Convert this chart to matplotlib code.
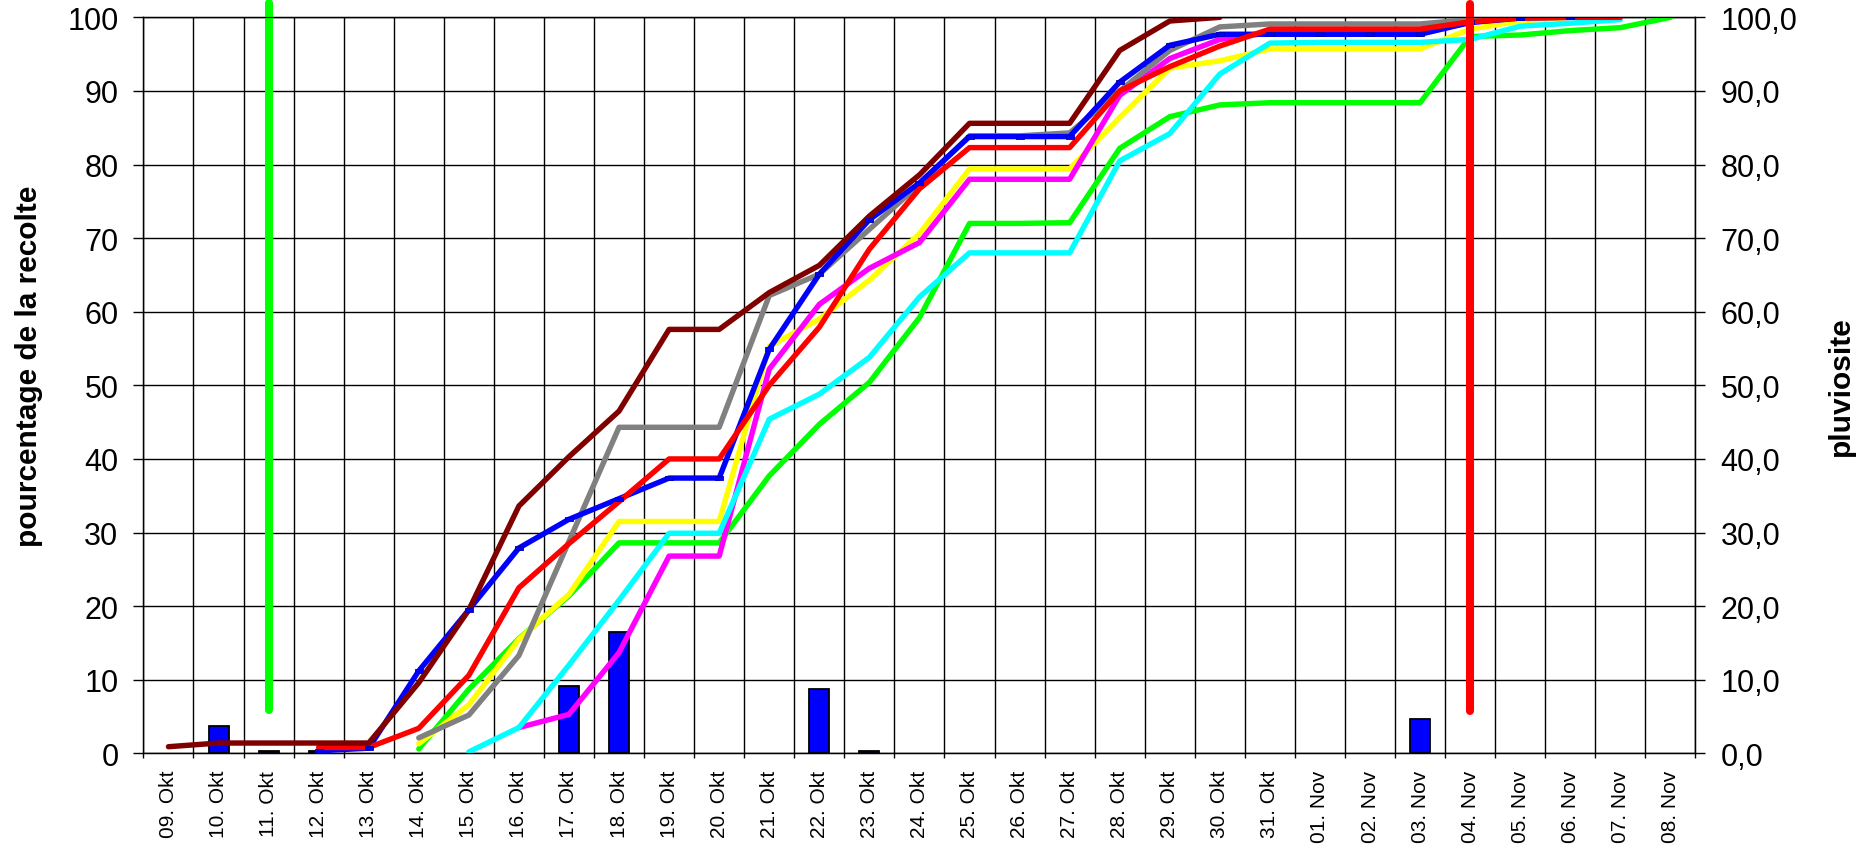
import numpy as np
import matplotlib
matplotlib.use("Agg")
import matplotlib.pyplot as plt

plt.rcParams['font.family'] = ['Liberation Sans', 'DejaVu Sans']

nan = np.nan

# day labels (x axis)
days = ["09. Okt", "10. Okt", "11. Okt", "12. Okt", "13. Okt", "14. Okt", "15. Okt",
        "16. Okt", "17. Okt", "18. Okt", "19. Okt", "20. Okt", "21. Okt", "22. Okt",
        "23. Okt", "24. Okt", "25. Okt", "26. Okt", "27. Okt", "28. Okt", "29. Okt",
        "30. Okt", "31. Okt", "01. Nov", "02. Nov", "03. Nov", "04. Nov", "05. Nov",
        "06. Nov", "07. Nov", "08. Nov"]

# rainfall (bars, right axis)
pluie = [0, 3.75, 0.3, 0.3, 0, 0, 0, 0, 9.2, 16.5, 0, 0, 0, 8.7, 0.3, 0,
         0, 0, 0, 0, 0, 0, 0, 0, 0, 4.6, 0, 0, 0, 0, 0]

# cumulated harvest percentage, one list per parcel
serie_bleu = [nan, nan, nan, 0.35, 0.7, 11.2, 19.5, 27.9, 31.8, 34.6, 37.4, 37.4, 54.9, 65.1,
              72.5, 77.5, 83.8, 83.8, 83.8, 91.2, 96.2, 97.7, 97.7, 97.7, 97.7, 97.7,
              99.3, 99.9, 100.0, nan, nan]
serie_rouge = [nan, nan, nan, 0.8, 0.8, 3.4, 10.6, 22.5, 28.5, 34.2, 40.0, 40.0, 50.0, 57.9,
               68.5, 76.7, 82.3, 82.3, 82.3, 90.0, 93.3, 96.1, 98.4, 98.4, 98.4, 98.4,
               99.4, 99.9, 100.0, 100.0, nan]
serie_jaune = [nan, nan, nan, nan, nan, 1.3, 6.6, 15.5, 21.6, 31.5, 31.5, 31.5, 55.3, 59.0,
               64.3, 70.6, 79.4, 79.4, 79.4, 86.4, 93.1, 94.1, 95.7, 95.7, 95.7, 95.7,
               98.4, 99.5, 100.0, nan, nan]
serie_magenta = [nan, nan, nan, nan, nan, nan, nan, 3.5, 5.3, 13.7, 26.8, 26.8, 52.2, 61.0,
                 65.9, 69.4, 78.0, 78.0, 78.0, 89.4, 94.4, 97.0, 97.9, 97.9, 97.9, 97.9,
                 99.3, 100.0, nan, nan, nan]
serie_gris = [nan, nan, nan, nan, nan, 2.1, 5.2, 13.3, 28.8, 44.3, 44.3, 44.3, 62.2, 65.1,
              71.2, 77.3, 83.9, 83.9, 84.3, 90.0, 95.5, 98.7, 99.1, 99.1, 99.1, 99.1,
              99.7, 100.0, nan, nan, nan]
serie_cyan = [nan, nan, nan, nan, nan, nan, 0.2, 3.5, 12.0, 20.8, 29.9, 29.9, 45.4, 48.8,
              53.8, 62.0, 68.0, 68.0, 68.0, 80.5, 84.2, 92.3, 96.5, 96.6, 96.6, 96.6,
              97.0, 98.8, 99.2, 99.7, nan]
serie_vert = [nan, nan, nan, nan, nan, 0.6, 8.7, 15.6, 21.4, 28.6, 28.6, 28.6, 37.7, 44.7,
              50.4, 59.2, 72.0, 72.0, 72.1, 82.2, 86.5, 88.1, 88.4, 88.4, 88.4, 88.4,
              97.4, 97.6, 98.2, 98.6, 100.0]
serie_marron = [0.9, 1.4, 1.4, 1.4, 1.4, 9.6, 19.5, 33.6, 40.3, 46.5, 57.6, 57.6, 62.6, 66.3,
                73.0, 78.6, 85.6, 85.6, 85.6, 95.5, 99.5, 100.0, nan, nan, nan, nan,
                nan, nan, nan, nan, nan]

# start / end of harvest markers (day index, bottom, top)
debut_jour, debut_y = 2, [5.9, 102.0]
fin_jour, fin_y = 26, [5.8, 101.8]

x = np.arange(len(days))

fig = plt.figure(figsize=(18.65, 8.45), dpi=100)
ax = fig.add_axes([0.0769, 0.1073, 0.8322, 0.8710])

# rain bars (days without rain get no bar)
pl = np.array(pluie, dtype=float)
jours_pluie = pl > 0
ax.bar(x[jours_pluie], pl[jours_pluie], width=0.4, color="#0000ff",
       edgecolor="black", linewidth=1.3, zorder=1)

lw = 3.9
lines = [
    (serie_vert, "#00ff00"),
    (serie_jaune, "#ffff00"),
    (serie_magenta, "#ff00ff"),
    (serie_cyan, "#00ffff"),
    (serie_gris, "#808080"),
    (serie_bleu, "#0000ff"),
    (serie_rouge, "#ff0000"),
    (serie_marron, "#800000"),
]
for i, (vals, col) in enumerate(lines):
    ax.plot(x, vals, color=col, lw=lw, solid_joinstyle="round",
            solid_capstyle="round", zorder=3 + i * 0.1)

# small blue markers on the blue series
rect = [(-1, -0.55), (1, -0.55), (1, 0.55), (-1, 0.55), (-1, -0.55)]
ax.plot(x, serie_bleu, ls="none", marker=rect, ms=6, mfc="#0000ff",
        mec="#0000b0", mew=0.6, zorder=4)

# start / end vertical bars
ax.plot([debut_jour, debut_jour], debut_y, color="#00ff00", lw=5.8,
        solid_capstyle="round", clip_on=False, zorder=5)
ax.plot([fin_jour, fin_jour], fin_y, color="#ff0000", lw=5.8,
        solid_capstyle="round", clip_on=False, zorder=5)

ax.set_xlim(-0.5, len(days) - 0.5)
ax.set_ylim(0, 100)
ax.set_xticks(x)
ax.set_xticklabels(days, rotation=90, fontsize=15)
ax.set_xticks(np.arange(-0.5, len(days), 1), minor=True)
ax.tick_params(axis="x", which="major", length=0, pad=12)
ax.tick_params(axis="x", which="minor", length=3.6, width=1, direction="out")
ax.set_yticks(np.arange(0, 101, 10))
ax.tick_params(axis="y", length=7, width=1, pad=11, labelsize=22)
ax.grid(which="minor", axis="x", color="black", lw=1.0)
ax.grid(which="major", axis="y", color="black", lw=1.0)
ax.set_axisbelow(True)
for s in ax.spines.values():
    s.set_color("black")
    s.set_linewidth(1.0)

ax.set_ylabel("pourcentage de la recolte", fontsize=21.5, fontweight="bold")
ax.yaxis.set_label_coords(-0.0646, 0.5276)

ax2 = ax.twinx()
ax2.set_ylim(0, 100)
ticks2 = np.arange(0, 101, 10)
ax2.set_yticks(ticks2)
ax2.set_yticklabels([f"{v:.1f}".replace(".", ",") for v in ticks2])
ax2.tick_params(axis="y", length=7, width=1, pad=11, labelsize=22)
ax2.set_ylabel("pluviosite", fontsize=21.5, fontweight="bold")
ax2.yaxis.set_label_coords(1.0847, 0.5)

fig.savefig("out.png", dpi=100)
plt.close(fig)
